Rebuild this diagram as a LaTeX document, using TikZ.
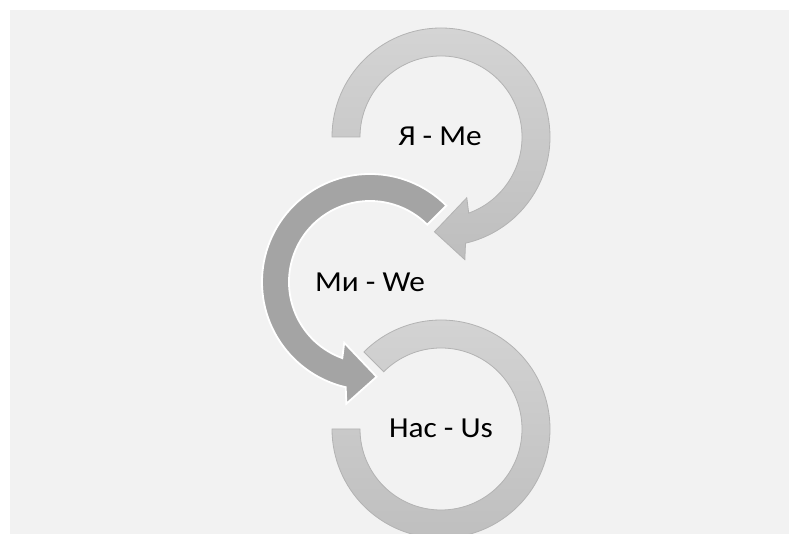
\documentclass[tikz,border=0pt]{standalone}
\usepackage{fontspec}
\setmainfont{Carlito}
\usetikzlibrary{calc}
\definecolor{bggray}{HTML}{F2F2F2}
\definecolor{ringtop}{HTML}{D4D4D4}
\definecolor{ringbot}{HTML}{BEBEBE}
\definecolor{ringline}{HTML}{B3B3B3}
\definecolor{midfill}{HTML}{A4A4A4}
\tikzset{
  lightring/.style={top color=ringtop, bottom color=ringbot, draw=ringline, line width=0.8pt},
  darkring/.style={fill=midfill, draw=white, line width=1.8pt},
  lbl/.style={font=\fontsize{29}{32}\selectfont, text=black, anchor=base, inner sep=0pt, xscale=1.08}
}
\begin{document}
\begin{tikzpicture}[x=1pt,y=1pt]
\useasboundingbox (0,0) rectangle (789,534);
\fill[white] (0,0) rectangle (789,534);
\fill[bggray] (10,0) rectangle (789,524);
\coordinate (T) at (441,397);
\coordinate (M) at (370,252);
\coordinate (B) at (441,105);
% top ring with arrowhead (clockwise)
\path[lightring] ($(T)+(180:109pt)$) arc[start angle=180, end angle=-77, radius=109pt]
  -- ($(T)+(-79:125pt)$) -- ($(T)+(-94:95pt)$) -- ($(T)+(-67:66pt)$) -- ($(T)+(-70:81pt)$)
  arc[start angle=-70, end angle=180, radius=81pt] -- cycle;
% bottom ring (no arrowhead)
\path[lightring] ($(B)+(135:109pt)$) arc[start angle=135, end angle=-180, radius=109pt]
  -- ($(B)+(180:81pt)$) arc[start angle=-180, end angle=135, radius=81pt] -- cycle;
% middle ring with arrowhead (counterclockwise)
\path[darkring] ($(M)+(45:108pt)$) arc[start angle=45, end angle=257, radius=108pt]
  -- ($(M)+(259:124pt)$) -- ($(M)+(274:95pt)$) -- ($(M)+(247:66pt)$) -- ($(M)+(250:81pt)$)
  arc[start angle=250, end angle=45, radius=81pt] -- cycle;
\node[lbl] (me) at (440,388) {Я - Me};
\node[lbl] (we) at (370,242) {Ми - We};
\node[lbl] (us) at (441,96) {Нас - Us};
\end{tikzpicture}
\end{document}
